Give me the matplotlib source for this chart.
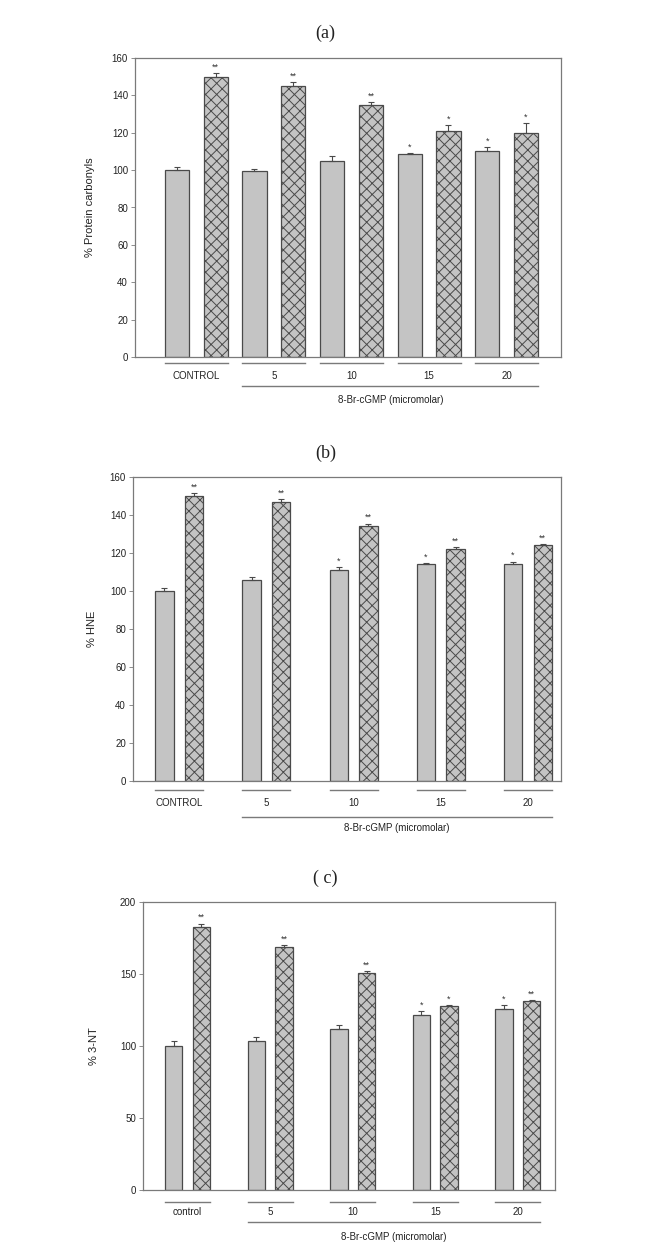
import numpy as np
import matplotlib
matplotlib.use("Agg")
import matplotlib.pyplot as plt
import matplotlib.transforms as mtransforms

groups = ["CONTROL", "5", "10", "15", "20"]
groups_c = ["control", "5", "10", "15", "20"]

# panel a: % protein carbonyls
a_plain = [100, 99.5, 105, 108.5, 110]
a_plain_err = [1.5, 1.0, 2.5, 0.7, 2.5]
a_hatch = [150, 145, 135, 121, 120]
a_hatch_err = [2, 2, 1.5, 3, 5]
a_plain_sig = ["", "", "", "*", "*"]
a_hatch_sig = ["**", "**", "**", "*", "*"]

# panel b: % HNE
b_plain = [100, 106, 111, 114, 114]
b_plain_err = [1.5, 1.5, 1.5, 0.5, 1.5]
b_hatch = [150, 147, 134, 122, 124]
b_hatch_err = [1.5, 1.5, 1.5, 1.0, 0.5]
b_plain_sig = ["", "", "*", "*", "*"]
b_hatch_sig = ["**", "**", "**", "**", "**"]

# panel c: % 3-NT
c_plain = [100, 103.5, 111.5, 121.5, 126]
c_plain_err = [3.5, 2.5, 3, 2.5, 2.5]
c_hatch = [182.5, 168.5, 151, 127.5, 131]
c_hatch_err = [2.5, 1.5, 1, 1, 1]
c_plain_sig = ["", "", "", "*", "*"]
c_hatch_sig = ["**", "**", "**", "*", "**"]

FILL = "#c4c4c4"
EDGE = "#4a4a4a"
AXC = "#7a7a7a"

plt.rcParams["font.family"] = ["Liberation Sans", "DejaVu Sans"]
plt.rcParams["hatch.linewidth"] = 0.7
plt.rcParams["hatch.color"] = "#2a2a2a"

fig = plt.figure(figsize=(6.64, 12.42), dpi=100)


def panel(rect, title, ylabel, ylim, yticks, labels, plain, perr, hatch, herr,
          psig, hsig, width, off, xlim, lines_y, ylab_x, title_y):
    ax = fig.add_axes(rect)
    x = np.arange(len(plain))
    ax.bar(x - off, plain, width, color=FILL, edgecolor=EDGE, linewidth=0.9,
           yerr=[np.zeros(len(perr)), perr], error_kw=dict(ecolor=EDGE, elinewidth=0.8, capsize=2.5, capthick=0.8))
    ax.bar(x + off, hatch, width, color=FILL, edgecolor=EDGE, linewidth=0.9, hatch="xxx",
           yerr=[np.zeros(len(herr)), herr], error_kw=dict(ecolor=EDGE, elinewidth=0.8, capsize=2.5, capthick=0.8))
    for xi, v, e, s in zip(x - off, plain, perr, psig):
        if s:
            ax.annotate(s, (xi, v + e), xytext=(0, 1), textcoords="offset points",
                        ha="center", va="bottom", fontsize=6.5, color="#333")
    for xi, v, e, s in zip(x + off, hatch, herr, hsig):
        if s:
            ax.annotate(s, (xi, v + e), xytext=(0, 1), textcoords="offset points",
                        ha="center", va="bottom", fontsize=6.5, color="#333")
    ax.set_xlim(*xlim)
    ax.set_ylim(*ylim)
    ax.set_yticks(yticks)
    ax.set_xticks([])
    ax.tick_params(axis="y", labelsize=7, length=3, width=0.6, color=AXC, pad=2, labelcolor="#222")
    for sp in ax.spines.values():
        sp.set_color(AXC)
        sp.set_linewidth(0.9)

    # group underlines, labels and the shared treatment bracket
    tr = mtransforms.blended_transform_factory(ax.transData, ax.transAxes)
    uy, ly, lly, xly = lines_y
    for xi, lab in zip(x, labels):
        ax.plot([xi - off - width / 2, xi + off + width / 2], [uy, uy], transform=tr,
                color=AXC, lw=1.0, clip_on=False)
        ax.text(xi, ly, lab, transform=tr, ha="center", va="center", fontsize=7, color="#222")
    ax.plot([1 - off - width / 2, 4 + off + width / 2], [lly, lly], transform=tr,
            color=AXC, lw=1.0, clip_on=False)
    ax.text(2.5, xly, "8-Br-cGMP (micromolar)", transform=tr, ha="center", va="center",
            fontsize=7, color="#222")

    ax.text(ylab_x, 0.5, ylabel, transform=ax.transAxes, rotation=90, ha="center",
            va="center", fontsize=8, color="#222")
    fig.text(0.5 - 0.01, title_y, title, ha="center", va="center", fontsize=13,
             family=["Liberation Serif", "DejaVu Serif"], color="#222")
    return ax


panel([135 / 664, 1 - 357 / 1242, 426 / 664, 299 / 1242], "(a)", "% Protein carbonyls",
      (0, 160), range(0, 161, 20), groups, a_plain, a_plain_err, a_hatch, a_hatch_err,
      a_plain_sig, a_hatch_sig, 0.31, 0.25, (-0.79, 4.70),
      (-0.02, -0.065, -0.097, -0.143), -0.105, 1 - 33 / 1242)

panel([133 / 664, 1 - 781 / 1242, 428 / 664, 304 / 1242], "(b)", "% HNE",
      (0, 160), range(0, 161, 20), groups, b_plain, b_plain_err, b_hatch, b_hatch_err,
      b_plain_sig, b_hatch_sig, 0.21, 0.17, (-0.53, 4.38),
      (-0.03, -0.072, -0.118, -0.155), -0.095, 1 - 453 / 1242)

panel([143 / 664, 1 - 1190 / 1242, 412 / 664, 288 / 1242], "( c)", "% 3-NT",
      (0, 200), range(0, 201, 50), groups_c, c_plain, c_plain_err, c_hatch, c_hatch_err,
      c_plain_sig, c_hatch_sig, 0.21, 0.167, (-0.54, 4.45),
      (-0.04, -0.075, -0.11, -0.162), -0.12, 1 - 878 / 1242)

fig.savefig("out.png", dpi=100, facecolor="white")
